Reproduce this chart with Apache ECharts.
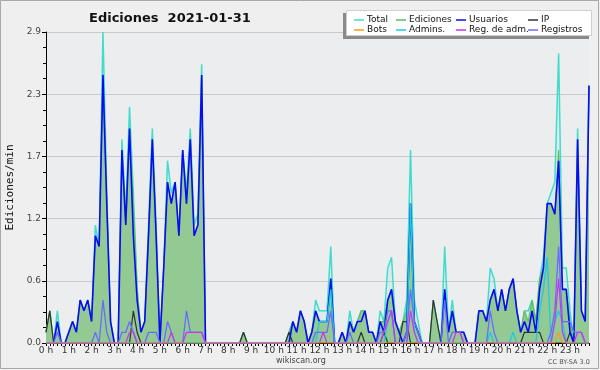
<!DOCTYPE html>
<html>
<head>
<meta charset="utf-8">
<script src="https://cdn.jsdelivr.net/npm/echarts@6/dist/echarts.min.js"></script>
<style>
html,body{margin:0;padding:0;background:#efefef;}
#c{width:600px;height:370px;}
</style>
</head>
<body>
<div id="c"></div>
<script>
// 10-minute buckets, values in edits per minute
var hourLabels = ["0 h","1 h","2 h","3 h","4 h","5 h","6 h","7 h","8 h","9 h","10 h","11 h","12 h","13 h","14 h","15 h","16 h","17 h","18 h","19 h","20 h","21 h","22 h","23 h"];
var yTicks = [0, 0.58, 1.16, 1.74, 2.32, 2.9];

var total = [
 0.1,0.3,0,0.3,0,0,
 0.1,0.2,0.1,0.4,0.3,0.4,
 0.2,1.1,0.9,2.9,1.4,0.2,
 0,0,1.9,1.2,2.2,1.4,
 0.5,0.1,0.2,1.1,2.0,1.1,
 0,0.7,1.7,1.4,1.5,1.0,
 1.8,1.4,2.0,1.1,1.2,2.6,
 0,0,0,0,0,0,
 0,0,0,0,0.1,0,
 0,0,0,0,0,0,
 0,0,0,0,0.1,0.2,
 0.1,0.3,0.2,0,0.1,0.4,
 0.3,0.3,0.3,0.9,0,0,
 0.1,0,0.3,0.1,0.2,0.3,
 0.3,0.1,0.1,0,0.3,0.2,
 0.7,0.8,0.2,0.1,0.2,0.4,
 1.8,0.4,0.2,0,0,0,
 0.4,0.2,0,0.9,0.1,0.4,
 0.1,0.1,0.1,0,0,0,
 0.3,0.3,0.2,0.7,0.6,0.3,
 0.5,0.3,0.5,0.6,0.3,0.1,
 0.3,0.3,0.4,0.2,0.6,0.8,
 1.3,1.4,1.5,2.7,0.7,0.7,
 0.3,0,2.0,0.3,0.2,2.4
];
var ediciones = [
 0.1,0.3,0,0.2,0,0,
 0.1,0.2,0.1,0.4,0.3,0.4,
 0.2,1.0,0.9,2.5,1.3,0.2,
 0,0,1.8,1.1,2.0,1.3,
 0.5,0.1,0.2,1.0,1.9,1.0,
 0,0.7,1.5,1.3,1.5,1.0,
 1.8,1.3,1.9,1.0,1.1,2.5,
 0,0,0,0,0,0,
 0,0,0,0,0.1,0,
 0,0,0,0,0,0,
 0,0,0,0,0.1,0.2,
 0.1,0.3,0.2,0,0.1,0.3,
 0.2,0.2,0.2,0.6,0,0,
 0.1,0,0.2,0.1,0.2,0.3,
 0.3,0.1,0.1,0,0.2,0.2,
 0.4,0.5,0.2,0.1,0.2,0.3,
 1.3,0.2,0.1,0,0,0,
 0.4,0.2,0,0.5,0.1,0.3,
 0.1,0.1,0.1,0,0,0,
 0.3,0.3,0.2,0.4,0.5,0.3,
 0.5,0.3,0.5,0.6,0.3,0.1,
 0.3,0.2,0.4,0.2,0.6,0.7,
 1.3,1.3,1.2,1.8,0.5,0.5,
 0.2,0,1.9,0.3,0.2,2.4
];
var usuarios = [
 0,0,0,0.2,0,0,
 0.1,0.2,0.1,0.4,0.3,0.4,
 0.2,1.0,0.9,2.5,1.3,0.2,
 0,0,1.8,1.1,2.0,1.0,
 0.4,0.1,0.2,1.0,1.9,1.0,
 0,0.7,1.5,1.3,1.5,1.0,
 1.8,1.3,1.9,1.0,1.1,2.5,
 0,0,0,0,0,0,
 0,0,0,0,0,0,
 0,0,0,0,0,0,
 0,0,0,0,0,0.2,
 0.1,0.3,0.2,0,0.1,0.3,
 0.2,0.2,0.2,0.6,0,0,
 0.1,0,0.2,0.1,0.2,0.2,
 0.3,0.1,0.1,0,0.2,0.1,
 0.4,0.5,0.2,0.1,0,0.1,
 1.3,0.2,0.1,0,0,0,
 0,0,0,0.5,0.1,0.3,
 0.1,0.1,0.1,0,0,0,
 0.3,0.3,0.2,0.4,0.5,0.3,
 0.5,0.3,0.5,0.6,0.3,0.1,
 0.2,0.1,0.3,0.1,0.5,0.7,
 1.3,1.3,1.2,1.7,0.5,0.5,
 0.1,0,1.9,0.3,0.2,2.4
];
var ip = [
 0.1,0.3,0,0,0,0,
 0,0,0,0,0,0,
 0,0,0,0,0,0,
 0,0,0,0,0,0.3,
 0.1,0,0,0,0,0,
 0,0,0,0,0,0,
 0,0,0,0,0,0,
 0,0,0,0,0,0,
 0,0,0,0,0.1,0,
 0,0,0,0,0,0,
 0,0,0,0,0.1,0,
 0,0,0,0,0,0,
 0,0,0,0,0,0,
 0,0,0,0,0,0.1,
 0,0,0,0,0,0.1,
 0,0,0,0,0.2,0.2,
 0,0,0,0,0,0,
 0.4,0.2,0,0,0,0,
 0,0,0,0,0,0,
 0,0,0,0,0,0,
 0,0,0,0,0,0,
 0.1,0.1,0.1,0.1,0.1,0,
 0,0,0,0,0,0,
 0.1,0,0,0,0,0
];
var bots = [
 0,0,0,0,0,0, 0,0,0,0,0,0, 0,0,0,0,0,0, 0,0,0,0,0,0,
 0,0,0,0,0,0, 0,0,0,0,0,0, 0,0,0,0,0,0, 0,0,0,0,0,0,
 0,0,0,0,0,0, 0,0,0,0,0,0, 0,0,0,0,0,0, 0,0,0,0,0,0,
 0,0,0,0,0,0, 0,0,0,0,0,0, 0,0,0,0,0,0, 0,0,0,0,0,0,
 0,0,0,0,0,0, 0,0,0,0,0,0, 0,0,0,0,0,0, 0,0,0,0,0,0,
 0,0,0,0,0,0, 0,0,0,0,0,0,
 0,0,0,0.1,0,0,
 0,0,0,0,0,0
];
var admins = [
 0,0,0,0,0,0, 0,0,0,0,0,0, 0,0,0,0,0,0, 0,0,0,0,0,0,
 0,0,0,0,0,0, 0,0,0,0,0,0, 0,0,0,0,0,0, 0,0,0,0,0,0,
 0,0,0,0,0,0, 0,0,0,0,0,0, 0,0,0,0,0,0, 0,0,0,0,0,0,
 0.2,0.2,0.2,0.5,0,0,
 0,0,0,0,0,0,
 0,0,0,0,0,0,
 0.2,0.3,0,0,0,0,
 1.3,0.1,0,0,0,0,
 0,0,0,0,0,0,
 0,0,0,0,0,0,
 0,0,0,0.1,0,0,
 0,0,0,0.1,0,0,
 0,0,0,0,0.3,0.5,
 0.8,0,0.2,0.3,0.2,0,
 0,0,0,0,0,0
];
var regAdm = [
 0,0,0,0,0,0,
 0,0,0,0,0,0,
 0,0,0,0,0,0,
 0,0,0,0,0.1,0.1,
 0,0,0,0,0,0,
 0,0,0,0.1,0,0,
 0,0.1,0.1,0.1,0.1,0.1,
 0,0,0,0,0,0, 0,0,0,0,0,0, 0,0,0,0,0,0, 0,0,0,0,0,0, 0,0,0,0,0,0,
 0,0.1,0,0,0,0,
 0,0,0,0,0,0,
 0,0,0,0,0,0.1,
 0.2,0.3,0,0,0,0,
 0.3,0.1,0,0,0,0,
 0,0,0,0,0,0,
 0.1,0.1,0,0,0,0,
 0,0,0,0,0,0,
 0,0,0,0,0,0,
 0,0,0,0,0,0,
 0,0,0.2,0.6,0.1,0,
 0,0,0.1,0.1,0,0
];
var registros = [
 0,0,0,0.1,0,0,
 0,0,0,0,0,0,
 0,0.1,0,0.4,0.1,0,
 0,0,0.1,0.1,0.2,0.1,
 0,0,0,0.1,0.1,0.1,
 0,0,0.2,0.1,0,0,
 0,0.3,0.1,0.1,0.1,0.1,
 0,0,0,0,0,0, 0,0,0,0,0,0, 0,0,0,0,0,0, 0,0,0,0,0,0,
 0,0,0,0,0,0.1,
 0.1,0.1,0.1,0.3,0,0,
 0,0,0.1,0,0,0,
 0,0,0,0,0.1,0.1,
 0.3,0.3,0,0,0,0.1,
 0.5,0.2,0.1,0,0,0,
 0,0,0,0.4,0,0.1,
 0.1,0.1,0,0,0,0,
 0,0,0,0.3,0.1,0,
 0,0,0,0,0,0,
 0,0,0,0,0,0,
 0,0.1,0.3,0.9,0.2,0.2,
 0.2,0.1,0.1,0.1,0,0
];

var categories = [];
for (var h = 0; h < 24; h++) {
  for (var m = 0; m < 60; m += 10) {
    categories.push((h < 10 ? '0' : '') + h + ':' + (m < 10 ? '0' : '') + m);
  }
}

var FONT = 'DejaVu Sans';
var chart = echarts.init(document.getElementById('c'), null, {renderer: 'canvas'});

function lineSeries(name, data, color, width, z) {
  return {
    name: name, type: 'line', data: data, showSymbol: false, symbol: 'none',
    lineStyle: {color: color, width: width}, itemStyle: {color: color},
    z: z, animation: false
  };
}

var sTotal = lineSeries('Total', total, '#40dccc', 1.5, 2);
sTotal.areaStyle = {color: 'rgba(64,224,208,0.13)', origin: 'start'};
var sEd = lineSeries('Ediciones', ediciones, '#5cc05c', 1.2, 3);
sEd.areaStyle = {color: '#93c993', opacity: 1, origin: 'start'};

var legendCols = [
  {x: 354, names: ['Total', 'Bots']},
  {x: 396, names: ['Ediciones', 'Admins.']},
  {x: 456, names: ['Usuarios', 'Reg. de adm.']},
  {x: 528, names: ['IP', 'Registros']}
];

var option = {
  backgroundColor: '#efefef',
  animation: false,
  textStyle: {fontFamily: FONT},
  title: {
    text: 'Ediciones  2021-01-31',
    left: 84, top: 7,
    textStyle: {fontFamily: FONT, fontSize: 13, fontWeight: 'bold', color: '#111'}
  },
  legend: legendCols.map(function (c) {
    return {
      orient: 'vertical', left: c.x, top: 15, data: c.names,
      icon: 'rect', itemWidth: 10, itemHeight: 1.5, itemGap: 0, padding: 0,
      selectedMode: false, z: 10,
      textStyle: {fontFamily: FONT, fontSize: 9, color: '#111', lineHeight: 10, padding: [0, 0, 0, -2]}
    };
  }),
  grid: {
    left: 46, top: 32, width: 543, height: 311,
    outerBoundsMode: 'none', containLabel: false,
    show: true, backgroundColor: '#ebedef', borderWidth: 0
  },
  xAxis: {
    type: 'category', data: categories, boundaryGap: false,
    axisLine: {show: true, lineStyle: {color: '#000', width: 1}},
    axisTick: {show: true, interval: 0, length: 3, lineStyle: {color: '#000'}},
    axisLabel: {
      interval: 5, margin: 3, fontSize: 9, color: '#333', fontFamily: FONT,
      formatter: function (v, i) { return hourLabels[Math.floor(i / 6)]; }
    },
    splitLine: {show: false}
  },
  yAxis: {
    type: 'value', min: 0, max: 2.9, interval: 0.58,
    name: 'Ediciones/min', nameLocation: 'middle', nameRotate: 90, nameGap: 30,
    nameTextStyle: {fontFamily: 'DejaVu Sans Mono', fontSize: 11, color: '#111'},
    axisLine: {show: true, lineStyle: {color: '#000', width: 1}},
    axisTick: {show: true, length: 4, lineStyle: {color: '#000'}},
    minorTick: {show: true, splitNumber: 4, length: 3, lineStyle: {color: '#000'}},
    axisLabel: {
      margin: 5, fontSize: 9, color: '#444', fontFamily: FONT,
      formatter: function (v) { return v.toFixed(1); }
    },
    splitLine: {show: true, lineStyle: {color: '#c9c9c9', width: 1}}
  },
  graphic: [
    {type: 'rect', z: 5, shape: {x: 343, y: 13, width: 246, height: 26}, style: {fill: '#8a8a8a'}},
    {type: 'rect', z: 6, shape: {x: 346.5, y: 10.5, width: 245, height: 25}, style: {fill: '#ffffff', stroke: '#cfcfcf', lineWidth: 1}},
    {type: 'text', z: 6, left: 276, top: 357, style: {text: 'wikiscan.org', fill: '#444', font: '8px "DejaVu Sans"'}},
    {type: 'text', z: 6, left: 548, top: 359, style: {text: 'CC BY-SA 3.0', fill: '#555', font: '6.5px "DejaVu Sans"'}},
    {type: 'rect', z: 6, shape: {x: 0.5, y: 0.5, width: 598, height: 368}, style: {fill: 'none', stroke: '#a8a8a8', lineWidth: 1}}
  ],
  series: [
    sTotal,
    sEd,
    lineSeries('IP', ip, '#333333', 1.2, 4),
    lineSeries('Usuarios', usuarios, '#0a0af5', 1.6, 5),
    lineSeries('Admins.', admins, '#1ec8e6', 1.3, 6),
    lineSeries('Registros', registros, '#6b6bff', 1.3, 7),
    lineSeries('Reg. de adm.', regAdm, '#cc33ee', 1.2, 8),
    lineSeries('Bots', bots, '#ff9a1a', 1.2, 9)
  ]
};
chart.setOption(option);
</script>
</body>
</html>
